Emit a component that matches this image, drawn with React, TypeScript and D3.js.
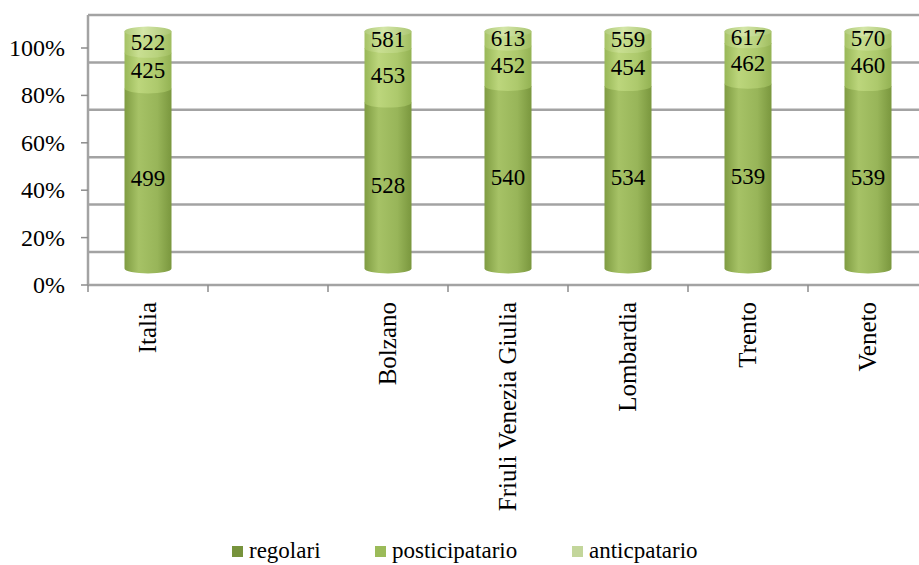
import React from "react";
import * as d3 from "d3";

const categories = ["Italia", " ", "Bolzano", "Friuli Venezia Giulia", "Lombardia", "Trento", "Veneto"];
const regolariPct = [76, null, 70, 77, 77, 78, 77];
const posticipatarioPct = [15, null, 23, 17, 16, 17, 17];
const anticipatarioPct = [9, null, 7, 6, 7, 5, 6];
const regolariScore = [499, null, 528, 540, 534, 539, 539];
const posticipatarioScore = [425, null, 453, 452, 454, 462, 460];
const anticipatarioScore = [522, null, 581, 613, 559, 617, 570];
const yTicks = [0, 20, 40, 60, 80, 100];
const seriesNames = ["regolari", "posticipatario", "anticpatario"];
const legendColors = ["#77933C", "#9BBB59", "#C3D69B"];
const shades = [
  ["#7f9c42", "#a6c266", "#98b559", "#7a973e"],
  ["#98b757", "#bcd67c", "#adc96c", "#93b253"],
  ["#a5c264", "#c9df92", "#b9d37e", "#a0bd60"],
];

const W = 919, H = 565;
const depth = 33;
const x = d3.scaleBand<string>().domain(categories).range([88, 88 + 7 * 120]).paddingInner(0).paddingOuter(0);
const yFront = d3.scaleLinear().domain([0, 100]).range([285, 48]);
const yBack = (v: number) => yFront(v) - depth;
const yMid = (v: number) => yFront(v) - depth / 2;
const font = "Liberation Serif, Times New Roman, serif";

export default function App() {
  const rx = 23.5, ry = 5;
  const right = W + 20;
  const bars = categories.map((c, i) => {
    if (regolariPct[i] == null) return null;
    const vals = [regolariPct[i]!, posticipatarioPct[i]!, anticipatarioPct[i]!];
    const scores = [regolariScore[i]!, posticipatarioScore[i]!, anticipatarioScore[i]!];
    const stack = d3.cumsum(vals);
    const cx = x(c)! + x.bandwidth() / 2;
    const segs = vals.map((v, k) => {
      const v0 = k === 0 ? 0 : stack[k - 1];
      const v1 = stack[k];
      const y0 = yMid(v0), y1 = yMid(v1);
      const d = `M${cx - rx},${y1} L${cx - rx},${y0} A${rx},${ry} 0 0 0 ${cx + rx},${y0} L${cx + rx},${y1} Z`;
      return { d, k, yc: (y0 + y1) / 2, score: scores[k] };
    });
    const topY = yMid(stack[2]);
    return (
      <g key={c}>
        {segs.map((s) => (
          <path key={s.k} d={s.d} fill={`url(#grad${s.k})`} />
        ))}
        <ellipse cx={cx} cy={topY} rx={rx} ry={ry} fill="url(#capGrad)" />
        {segs.map((s) => (
          <text key={"t" + s.k} x={cx} y={s.yc} textAnchor="middle" dominantBaseline="central" style={{ fontSize: 23, fontFamily: font }} fill="#000">
            {s.score}
          </text>
        ))}
      </g>
    );
  });

  return (
    <svg width={W} height={H} style={{ position: "absolute", left: 0, top: 0, background: "#fff" }}>
      <defs>
        {shades.map((s, k) => (
          <linearGradient key={k} id={`grad${k}`} x1="0" x2="1" y1="0" y2="0">
            <stop offset="0" stopColor={s[0]} />
            <stop offset="0.3" stopColor={s[1]} />
            <stop offset="0.7" stopColor={s[2]} />
            <stop offset="1" stopColor={s[3]} />
          </linearGradient>
        ))}
        <linearGradient id="capGrad" x1="0" x2="1" y1="0" y2="0">
          <stop offset="0" stopColor="#b0cb7a" />
          <stop offset="0.4" stopColor="#d4e6a8" />
          <stop offset="1" stopColor="#acc774" />
        </linearGradient>
      </defs>
      {yTicks.map((t) => (
        <line key={"g" + t} x1={88} x2={right} y1={yBack(t)} y2={yBack(t)} stroke="#a3a3a3" strokeWidth={2.5} />
      ))}
      <line x1={88} x2={right} y1={yFront(0)} y2={yFront(0)} stroke="#a3a3a3" strokeWidth={2.5} />
      <line x1={88} x2={88} y1={yBack(100)} y2={yFront(0)} stroke="#a3a3a3" strokeWidth={2.5} />
      {yTicks.map((t) => (
        <g key={"yt" + t}>
          <line x1={81} x2={88} y1={yFront(t)} y2={yFront(t)} stroke="#8c8c8c" strokeWidth={1.5} />
          <text x={65} y={yFront(t)} textAnchor="end" dominantBaseline="central" style={{ fontSize: 24, fontFamily: font }} fill="#000">
            {t}%
          </text>
        </g>
      ))}
      {d3.range(categories.length + 1).map((i) => {
        const xv = 88 + i * x.bandwidth();
        return <line key={"xt" + i} x1={xv} x2={xv} y1={yFront(0)} y2={yFront(0) + 7} stroke="#8c8c8c" strokeWidth={1.5} />;
      })}
      {bars}
      {categories.map((c) => {
        const cx = x(c)! + x.bandwidth() / 2;
        return (
          <text key={"c" + c} transform={`translate(${cx + 8},302) rotate(-90)`} textAnchor="end" style={{ fontSize: 25, fontFamily: font }} fill="#000">
            {c.trim()}
          </text>
        );
      })}
      {seriesNames.map((n, k) => {
        const lx = [232, 375, 572][k];
        return (
          <g key={"l" + n}>
            <rect x={lx} y={546} width={11} height={11} fill={legendColors[k]} />
            <text x={lx + 17} y={558} style={{ fontSize: 23, fontFamily: font }} fill="#000">
              {n}
            </text>
          </g>
        );
      })}
    </svg>
  );
}
